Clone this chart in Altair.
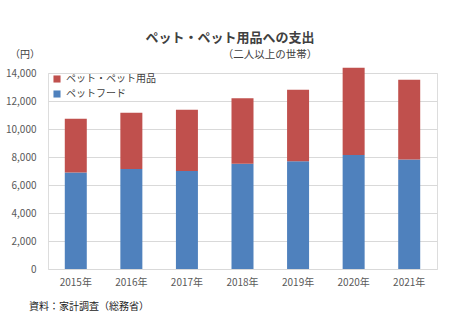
import altair as alt
import pandas as pd

years = ["2015年", "2016年", "2017年", "2018年", "2019年", "2020年", "2021年"]
food = [6900, 7140, 7000, 7520, 7700, 8140, 7830]
goods = [3840, 4020, 4380, 4670, 5110, 6240, 5690]
series = ["ペット・ペット用品", "ペットフード"]
colors = ["#C0504D", "#4F81BD"]

rows = []
for y, f, g in zip(years, food, goods):
    rows.append({"年": y, "系列": series[1], "値": f, "順": 0})
    rows.append({"年": y, "系列": series[0], "値": g, "順": 1})
df = pd.DataFrame(rows)

FONT = "Noto Sans CJK JP"

bars = alt.Chart(df).mark_bar(size=22).encode(
    x=alt.X("年:N", sort=years, title=None,
            axis=alt.Axis(labelAngle=0, labelFontSize=10, labelColor="#595959",
                          labelFont=FONT, ticks=False, domain=False, labelPadding=8, grid=False)),
    y=alt.Y("値:Q", stack="zero", title=None,
            scale=alt.Scale(domain=[0, 14000]),
            axis=alt.Axis(values=list(range(0, 14001, 2000)), format=",d", labelFontSize=10,
                          labelColor="#595959", labelFont=FONT, ticks=False, domain=False,
                          labelPadding=12, gridColor="#D9D9D9", gridWidth=1)),
    color=alt.Color("系列:N", sort=series,
                    scale=alt.Scale(domain=series, range=colors),
                    legend=alt.Legend(title=None, orient="none", legendX=4, legendY=1,
                                      symbolType="square", symbolSize=50, symbolStrokeWidth=0,
                                      labelFontSize=10, labelFont=FONT, labelColor="#404040",
                                      rowPadding=5, padding=0, labelLimit=200)),
    order=alt.Order("順:Q"),
)

def label(txt, x, y, size, weight="normal", align="left", color="#404040"):
    return alt.Chart(pd.DataFrame({"t": [txt]})).mark_text(
        font=FONT, fontSize=size, fontWeight=weight, align=align, baseline="middle",
        color=color,
    ).encode(text="t:N", x=alt.value(x), y=alt.value(y))

title = label("ペット・ペット用品への支出", 182, -35, 13, "bold", "center", "#404040")
sub = label("（二人以上の世帯）", 222, -18, 10.5, "normal", "center", "#404040")
yen = label("（円）", -23, -18, 10, "normal", "center", "#404040")
src = label("資料：家計調査（総務省）", -19, 38 + 196, 10, "normal", "left", "#222222")

chart = alt.layer(bars, title, sub, yen, src).properties(
    width=389, height=196,
    padding={"left": 48, "top": 73, "right": 37, "bottom": 62},
    autosize=alt.AutoSizeParams(type="none"),
).configure_view(stroke=None).configure(font=FONT, background="white")

chart.save("out.html", embed_options={"renderer": "svg", "actions": False})
